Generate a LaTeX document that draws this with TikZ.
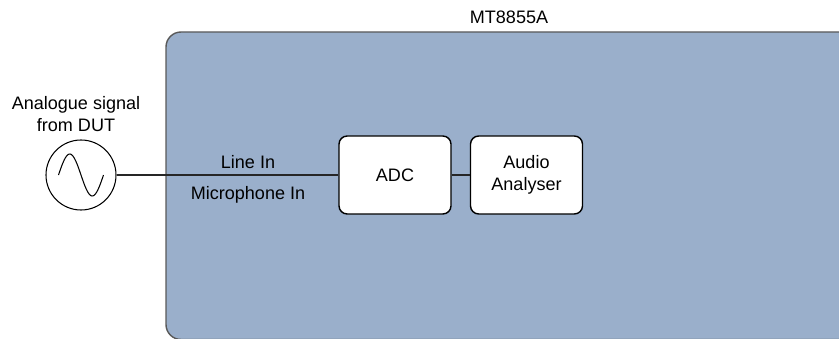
\documentclass[tikz,border=0pt]{standalone}
\usepackage{fontspec}
\setmainfont{Liberation Sans}
\usepackage{xcolor}
\usetikzlibrary{positioning}

\begin{document}
\begin{tikzpicture}[x=0.03cm,y=-0.03cm,
    font=\fontsize{15.4}{18.7}\selectfont,
    block/.style={draw=black,fill=white,line width=1.2pt,rounded corners=7pt,
      minimum width=3.36cm,minimum height=2.34cm,inner sep=0pt,align=center},
    wire/.style={line width=0.9pt,draw=black!85}]
  % Colors
  \colorlet{devicecolor}{rgb,255:red,154;green,175;blue,203}
  \colorlet{bordercolor}{black!65}

  \def\wireY{175} % px

  \useasboundingbox (0,0) rectangle (839,339);
  \clip (0,0) rectangle (839,339);

  % the instrument
  \filldraw[fill=devicecolor,draw=bordercolor,line width=1.2pt,rounded corners=0.45cm]
    (166,32) rectangle (900,339.5);
  \node (title) at (509,17) {MT8855A};

  % source
  \node[draw,circle,line width=0.9pt,minimum size=2.1cm,inner sep=0pt] (sig) at (81,\wireY) {};
  \draw[line width=0.9pt,shift={(sig.center)}]
    plot[domain=-1:1,samples=40,smooth] ({22.5*\x},{21*sin(180*\x)});
  \node[align=center] (siglabel) at (76,114) {Analogue signal\\from DUT};

  % blocks
  \node[block] (adc) at (395,\wireY) {ADC};
  \node[block] (ana) at (526.5,\wireY) {Audio\\Analyser};

  \node (linein) at (248,162) {Line In};
  \node (micin) at (248,195) {Microphone In};

  \draw[wire] (sig) -- (adc);
  \draw[wire] (adc) -- (ana);
\end{tikzpicture}
\end{document}
